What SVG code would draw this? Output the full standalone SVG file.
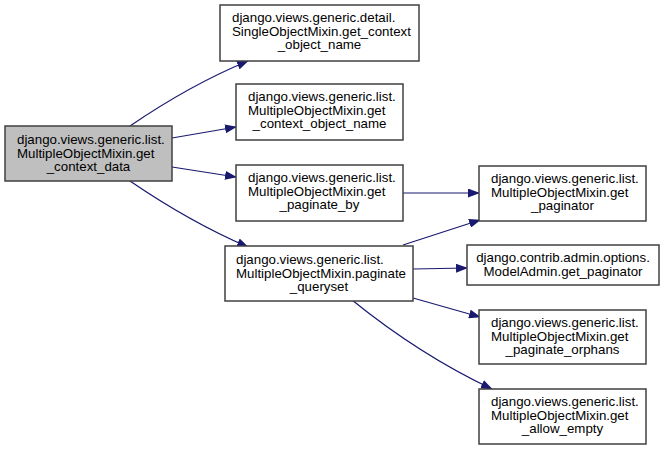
<svg xmlns="http://www.w3.org/2000/svg" width="664" height="451" viewBox="0 0 664 451">
<style>
.box{fill:#ffffff;stroke:#404040;stroke-width:1.5}
.root{fill:#bfbfbf;stroke:#404040;stroke-width:1.5}
text{font-family:"Liberation Sans",Arial,sans-serif;font-size:13.3px;fill:#000}
.c{text-anchor:middle}
.e{fill:none;stroke:#191970;stroke-width:1.2}
</style>
<defs>
<marker id="ah" markerWidth="12" markerHeight="9" refX="11" refY="4.5" orient="auto" markerUnits="userSpaceOnUse">
<path d="M0,0 L12,4.5 L0,9 Z" fill="#191970"/>
</marker>
</defs>
<g id="edges">
<path class="e" d="M130,126 Q190,85 248,61" marker-end="url(#ah)"/>
<path class="e" d="M172,138 L236,127" marker-end="url(#ah)"/>
<path class="e" d="M172,167 L236,177" marker-end="url(#ah)"/>
<path class="e" d="M130,181 Q190,222 248,247" marker-end="url(#ah)"/>
<path class="e" d="M403,193 L479,193" marker-end="url(#ah)"/>
<path class="e" d="M403,245 L480,220" marker-end="url(#ah)"/>
<path class="e" d="M413,269 L467,268" marker-end="url(#ah)"/>
<path class="e" d="M413,298 L480,317" marker-end="url(#ah)"/>
<path class="e" d="M352,300 Q420,355 492,389" marker-end="url(#ah)"/>
</g>
<g id="n0">
<rect class="root" x="5" y="126" width="167" height="55"/>
<text x="17" y="144">django.views.generic.list.</text>
<text x="17" y="157.5">MultipleObjectMixin.get</text>
<text class="c" x="88.5" y="171">_context_data</text>
</g>
<g id="nA">
<rect class="box" x="220" y="5" width="199" height="56"/>
<text x="232" y="22">django.views.generic.detail.</text>
<text x="232" y="35.5">SingleObjectMixin.get_context</text>
<text class="c" x="319.5" y="49">_object_name</text>
</g>
<g id="nB">
<rect class="box" x="236" y="84" width="167" height="56"/>
<text x="248" y="101">django.views.generic.list.</text>
<text x="248" y="114.5">MultipleObjectMixin.get</text>
<text class="c" x="319.5" y="128">_context_object_name</text>
</g>
<g id="nC">
<rect class="box" x="236" y="165" width="167" height="56"/>
<text x="248" y="182">django.views.generic.list.</text>
<text x="248" y="195.5">MultipleObjectMixin.get</text>
<text class="c" x="319.5" y="209">_paginate_by</text>
</g>
<g id="nD">
<rect class="box" x="225" y="246" width="188" height="55"/>
<text x="236" y="264">django.views.generic.list.</text>
<text x="236" y="277.5">MultipleObjectMixin.paginate</text>
<text class="c" x="319" y="291">_queryset</text>
</g>
<g id="nE">
<rect class="box" x="479" y="166" width="167" height="55"/>
<text x="491" y="183">django.views.generic.list.</text>
<text x="491" y="196.5">MultipleObjectMixin.get</text>
<text class="c" x="562.5" y="210">_paginator</text>
</g>
<g id="nF">
<rect class="box" x="467" y="245" width="192" height="40"/>
<text class="c" x="563" y="262">django.contrib.admin.options.</text>
<text class="c" x="563" y="275.5">ModelAdmin.get_paginator</text>
</g>
<g id="nG">
<rect class="box" x="479" y="310" width="167" height="54"/>
<text x="491" y="327">django.views.generic.list.</text>
<text x="491" y="340.5">MultipleObjectMixin.get</text>
<text class="c" x="562.5" y="354">_paginate_orphans</text>
</g>
<g id="nH">
<rect class="box" x="479" y="389" width="167" height="55"/>
<text x="491" y="406">django.views.generic.list.</text>
<text x="491" y="419.5">MultipleObjectMixin.get</text>
<text class="c" x="562.5" y="433">_allow_empty</text>
</g>
</svg>
